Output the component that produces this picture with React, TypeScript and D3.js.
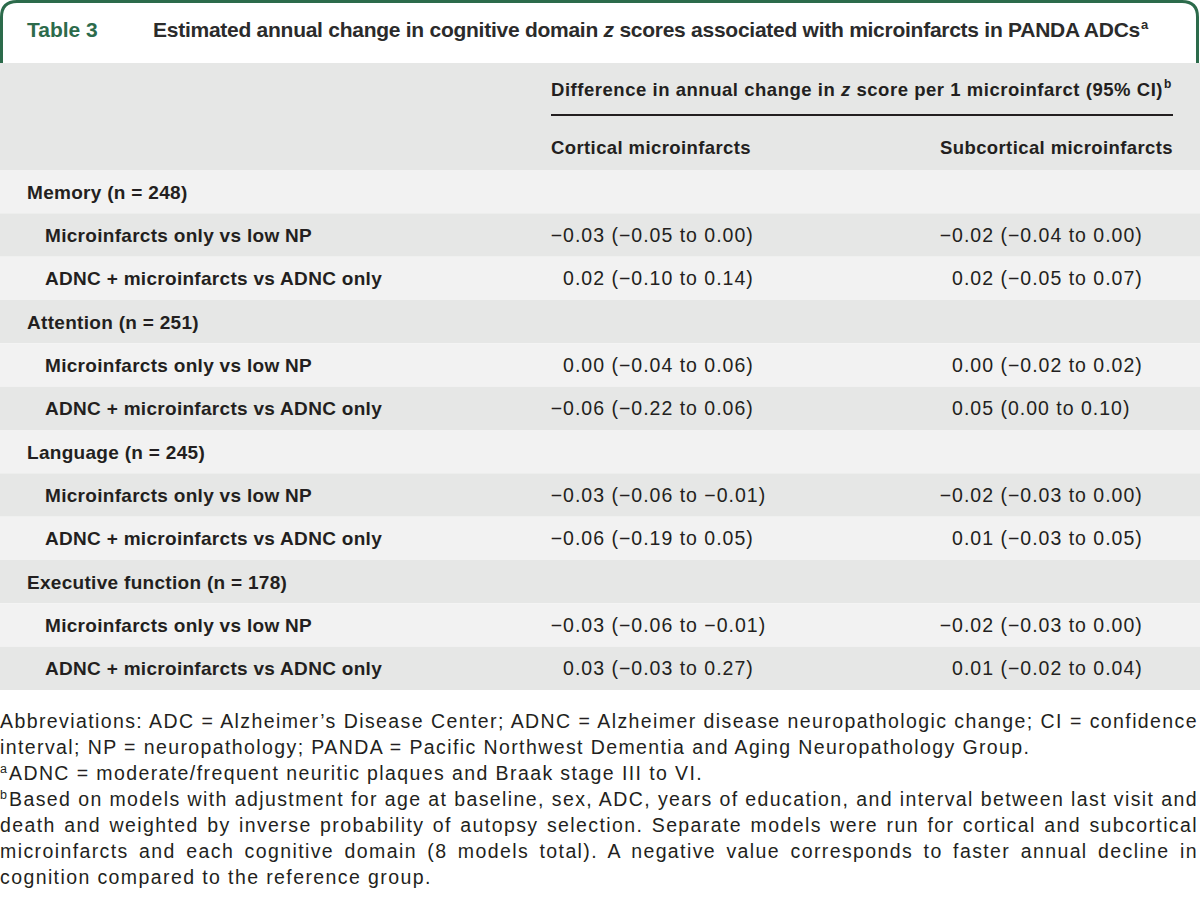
import React, { useEffect, useRef } from "react";
import * as d3 from "d3";

const tableNumber = "Table 3";
const titleBefore = "Estimated annual change in cognitive domain ";
const titleItalic = "z";
const titleAfter = " scores associated with microinfarcts in PANDA ADCs";
const spanHeaderBefore = "Difference in annual change in ";
const spanHeaderAfter = " score per 1 microinfarct (95% CI)";
const columnHeaders = ["Cortical microinfarcts", "Subcortical microinfarcts"];
const domains = ["Memory", "Attention", "Language", "Executive function"];
const domainN = [248, 251, 245, 178];
const comparisons = ["Microinfarcts only vs low NP", "ADNC + microinfarcts vs ADNC only"];
const corticalEst = [-0.03, 0.02, 0.0, -0.06, -0.03, -0.06, -0.03, 0.03];
const corticalLo = [-0.05, -0.1, -0.04, -0.22, -0.06, -0.19, -0.06, -0.03];
const corticalHi = [0.0, 0.14, 0.06, 0.06, -0.01, 0.05, -0.01, 0.27];
const subEst = [-0.02, 0.02, 0.0, 0.05, -0.02, 0.01, -0.02, 0.01];
const subLo = [-0.04, -0.05, -0.02, 0.0, -0.03, -0.03, -0.03, -0.02];
const subHi = [0.0, 0.07, 0.02, 0.1, 0.0, 0.05, 0.0, 0.04];

const footnoteLines = [
  { sup: "", text: "Abbreviations: ADC = Alzheimer\u2019s Disease Center; ADNC = Alzheimer disease neuropathologic change; CI = confidence", justify: true },
  { sup: "", text: "interval; NP = neuropathology; PANDA = Pacific Northwest Dementia and Aging Neuropathology Group.", justify: false },
  { sup: "a", text: "ADNC = moderate/frequent neuritic plaques and Braak stage III to VI.", justify: false },
  { sup: "b", text: "Based on models with adjustment for age at baseline, sex, ADC, years of education, and interval between last visit and", justify: true },
  { sup: "", text: "death and weighted by inverse probability of autopsy selection. Separate models were run for cortical and subcortical", justify: true },
  { sup: "", text: "microinfarcts and each cognitive domain (8 models total). A negative value corresponds to faster annual decline in", justify: true },
  { sup: "", text: "cognition compared to the reference group.", justify: false },
];

const W = 1200;
const H = 911;
const FONT = "'Liberation Sans', Arial, Helvetica, sans-serif";
const GREEN = "#2c6b4b";
const INK = "#231f20";
const DARK_ROW = "#e6e7e6";
const LIGHT_ROW = "#f2f2f2";
const FOOT_LS = 1.4;

type Row = { kind: "domain" | "comp"; label: string; idx: number };

export default function App() {
  const svgRef = useRef<SVGSVGElement>(null);

  const rows: Row[] = [];
  domains.forEach((d, i) => {
    rows.push({ kind: "domain", label: `${d} (n = ${domainN[i]})`, idx: -1 });
    comparisons.forEach((c, j) => rows.push({ kind: "comp", label: c, idx: i * 2 + j }));
  });

  const y = d3
    .scaleBand<number>()
    .domain(d3.range(rows.length))
    .range([170, 690])
    .paddingInner(0)
    .paddingOuter(0);

  const fmt = d3.format(".2f");
  const colX = [551, 940];
  const estEnd = [605, 994];
  const cols = [
    { est: corticalEst, lo: corticalLo, hi: corticalHi },
    { est: subEst, lo: subLo, hi: subHi },
  ];

  const footY = d3.scaleLinear().domain([0, footnoteLines.length - 1]).range([728, 884]);

  useEffect(() => {
    const svg = svgRef.current;
    if (!svg) return;
    svg.querySelectorAll<SVGTextElement>("text[data-target]").forEach((el) => {
      const target = parseFloat(el.getAttribute("data-target") || "0");
      const mode = el.getAttribute("data-mode") || "word";
      const txt = el.textContent || "";
      if (mode === "letter") {
        el.style.letterSpacing = "0px";
        const natural = el.getComputedTextLength();
        el.style.letterSpacing = `${(target - natural) / txt.length}px`;
      } else {
        el.style.wordSpacing = "0px";
        const natural = el.getComputedTextLength();
        const spaces = txt.split(" ").length - 1;
        if (spaces > 0) el.style.wordSpacing = `${(target - natural) / spaces}px`;
      }
    });
  }, []);

  return (
    <svg
      ref={svgRef}
      width={W}
      height={H}
      viewBox={`0 0 ${W} ${H}`}
      style={{ position: "absolute", left: 0, top: 0, background: "#fff" }}
      fontFamily={FONT}
    >
      {/* header background */}
      <rect x={0} y={63} width={W} height={107} fill={DARK_ROW} />
      {/* title box */}
      <path
        d={`M1.5,63 L1.5,17 Q1.5,1.5 17,1.5 L1182,1.5 Q1197.5,1.5 1197.5,17 L1197.5,63`}
        fill="#fff"
        stroke={GREEN}
        strokeWidth={3}
      />
      <text x={27} y={37} fontSize={21} fontWeight="bold" fill={GREEN}>
        {tableNumber}
      </text>
      <text x={153} y={37} fontSize={21} fontWeight="bold" fill="#2b2b2b" data-target="987" data-mode="letter">
        {titleBefore}
        <tspan fontStyle="italic">{titleItalic}</tspan>
        {titleAfter}
      </text>
      <text x={1141} y={29} fontSize={13} fontWeight="bold" fill="#2b2b2b">
        a
      </text>

      {/* spanning header */}
      <text x={colX[0]} y={96} fontSize={18.5} fontWeight="bold" fill={INK} data-target="612" data-mode="letter">
        {spanHeaderBefore}
        <tspan fontStyle="italic">z</tspan>
        {spanHeaderAfter}
      </text>
      <text x={1164} y={88} fontSize={12} fontWeight="bold" fill={INK}>
        b
      </text>
      <line x1={colX[0]} x2={1173} y1={115} y2={115} stroke={INK} strokeWidth={2} />
      <text x={colX[0]} y={154} fontSize={18.5} fontWeight="bold" fill={INK} data-target="200" data-mode="letter">
        {columnHeaders[0]}
      </text>
      <text x={940} y={154} fontSize={18.5} fontWeight="bold" fill={INK} data-target="233" data-mode="letter">
        {columnHeaders[1]}
      </text>

      {/* body rows */}
      {rows.map((r, i) => {
        const y0 = y(i) as number;
        const bh = y.bandwidth();
        const base = y0 + bh / 2 + 7;
        return (
          <g key={i}>
            <rect x={0} y={y0} width={W} height={bh} fill={i % 4 === 1 || i % 4 === 3 ? DARK_ROW : LIGHT_ROW} />
            <text
              x={r.kind === "domain" ? 27 : 45}
              y={base}
              fontSize={19}
              fontWeight="bold"
              fill={INK}
              letterSpacing={0.3}
            >
              {r.label}
            </text>
            {r.kind === "comp" &&
              cols.map((c, k) => (
                <g key={k} fontSize={19.5} fill={INK} letterSpacing={1}>
                  <text x={estEnd[k]} y={base} textAnchor="end">
                    {fmt(c.est[r.idx])}
                  </text>
                  <text x={estEnd[k]} y={base} xmlSpace="preserve">
                    {` (${fmt(c.lo[r.idx])} to ${fmt(c.hi[r.idx])})`}
                  </text>
                </g>
              ))}
          </g>
        );
      })}

      {/* footnotes */}
      {footnoteLines.map((f, i) => (
        <g key={i}>
          {f.sup && (
            <text x={0} y={footY(i) - 7} fontSize={12.5} fill={INK}>
              {f.sup}
            </text>
          )}
          <text
            x={f.sup ? 9 : 0}
            y={footY(i)}
            fontSize={19.5}
            fill={INK}
            style={{ letterSpacing: `${FOOT_LS}px` }}
            {...(f.justify ? { "data-target": String(1198 - (f.sup ? 9 : 0)), "data-mode": "word" } : {})}
          >
            {f.text}
          </text>
        </g>
      ))}
    </svg>
  );
}
